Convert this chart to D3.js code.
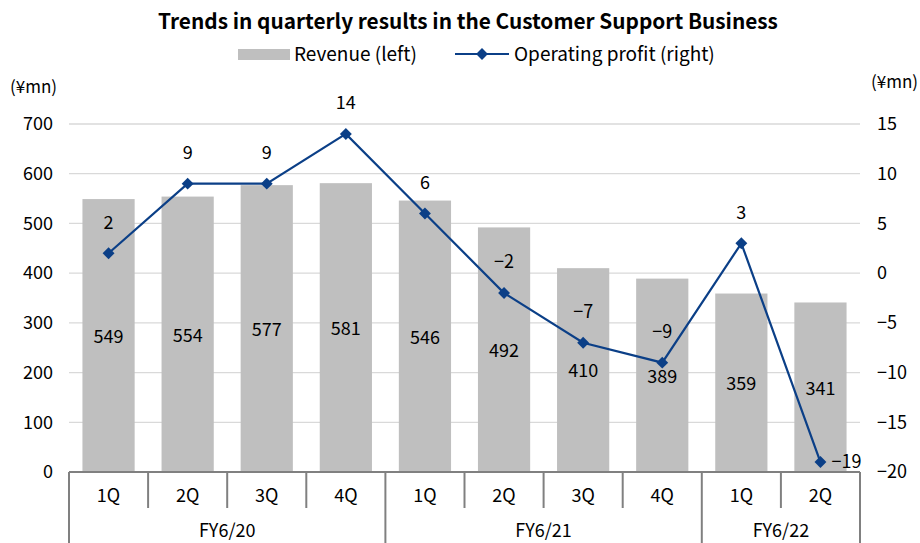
<!DOCTYPE html>
<html><head><meta charset="utf-8">
<script src="https://cdn.jsdelivr.net/npm/d3@7"></script>
<style>body{margin:0;background:#fff}svg{display:block}text{font-family:"Noto Sans CJK JP","Noto Sans",sans-serif;fill:#000}</style>
</head><body>
<script>
const quarters = ["1Q","2Q","3Q","4Q","1Q","2Q","3Q","4Q","1Q","2Q"];
const fiscalYears = ["FY6/20","FY6/20","FY6/20","FY6/20","FY6/21","FY6/21","FY6/21","FY6/21","FY6/22","FY6/22"];
const revenue = [549,554,577,581,546,492,410,389,359,341];
const profit = [2,9,9,14,6,-2,-7,-9,3,-19];
const leftTicks = [0,100,200,300,400,500,600,700];
const rightTicks = [-20,-15,-10,-5,0,5,10,15];

const W=920,H=543;
const m={l:69,r:860,t:124,b:472};
const FS="18px";
const svg=d3.select("body").append("svg").attr("width",W).attr("height",H);
const idx=d3.range(quarters.length);
const x=d3.scaleBand().domain(idx).range([m.l,m.r]).paddingInner(0.34).paddingOuter(0.17);
const xs=d3.scaleBand().domain(idx).range([m.l,m.r]);
const yL=d3.scaleLinear().domain([0,700]).range([m.b,m.t]);
const yR=d3.scaleLinear().domain([-20,15]).range([m.b,m.t]);
const fmt=v=>v<0?"\u2212"+Math.abs(v):String(v);

// grid
svg.append("g").selectAll("line").data(leftTicks.filter(d=>d>0)).join("line")
 .attr("x1",m.l).attr("x2",m.r).attr("y1",d=>yL(d)).attr("y2",d=>yL(d))
 .attr("stroke","#d9d9d9").attr("stroke-width",1.3);

// axes labels
const gl=svg.append("g").attr("transform",`translate(${m.l},0)`)
 .call(d3.axisLeft(yL).tickValues(leftTicks).tickSize(0).tickPadding(16));
gl.select(".domain").remove();
gl.selectAll("text").style("font-size",FS).attr("font-family",null);
const gr=svg.append("g").attr("transform",`translate(${m.r},0)`)
 .call(d3.axisRight(yR).tickValues(rightTicks).tickSize(0).tickPadding(17).tickFormat(fmt));
gr.select(".domain").remove();
gr.selectAll("text").style("font-size",FS).attr("font-family",null);

// bars
svg.append("g").selectAll("rect").data(revenue).join("rect")
 .attr("x",(d,i)=>x(i)).attr("width",x.bandwidth())
 .attr("y",d=>yL(d)).attr("height",d=>yL(0)-yL(d)).attr("fill","#bfbfbf");
svg.append("g").selectAll("text").data(revenue).join("text")
 .attr("x",(d,i)=>x(i)+x.bandwidth()/2).attr("y",d=>(yL(d)+yL(0))/2+1)
 .attr("text-anchor","middle").attr("dy","0.35em").style("font-size",FS).text(d=>d);

// line
const cx=i=>x(i)+x.bandwidth()/2;
svg.append("path").datum(profit).attr("fill","none").attr("stroke","#0b3f87").attr("stroke-width",2.2)
 .attr("d",d3.line().x((d,i)=>cx(i)).y(d=>yR(d)));
svg.append("g").selectAll("path").data(profit).join("path")
 .attr("transform",(d,i)=>`translate(${cx(i)},${yR(d)})`)
 .attr("d",d3.symbol(d3.symbolDiamond2,90)).attr("fill","#0b3f87");
svg.append("g").selectAll("text").data(profit).join("text")
 .attr("x",(d,i)=>i===profit.length-1?cx(i)+11:cx(i))
 .attr("y",(d,i)=>i===profit.length-1?yR(d):yR(d)-31)
 .attr("text-anchor",(d,i)=>i===profit.length-1?"start":"middle")
 .attr("dy","0.35em").style("font-size",FS).text(fmt);

// category axis
const ax=svg.append("g").attr("stroke","#808080").attr("stroke-width",2);
ax.append("line").attr("x1",m.l).attr("x2",m.r).attr("y1",m.b).attr("y2",m.b);
const groups=[];
fiscalYears.forEach((f,i)=>{ if(!groups.length||groups[groups.length-1].name!==f) groups.push({name:f,start:i,end:i}); else groups[groups.length-1].end=i;});
idx.concat([quarters.length]).forEach(i=>{
  const xx=i<quarters.length?xs(i):m.r;
  const isGroup = i===quarters.length || groups.some(g=>g.start===i);
  ax.append("line").attr("x1",xx).attr("x2",xx).attr("y1",m.b).attr("y2",isGroup?H:508);
});
svg.append("g").selectAll("text").data(quarters).join("text")
 .attr("x",(d,i)=>xs(i)+xs.bandwidth()/2).attr("y",496).attr("text-anchor","middle")
 .attr("dy","0.35em").style("font-size",FS).text(d=>d);
svg.append("g").selectAll("text").data(groups).join("text")
 .attr("x",g=>(xs(g.start)+xs(g.end)+xs.bandwidth())/2).attr("y",531).attr("text-anchor","middle")
 .attr("dy","0.35em").style("font-size",FS).text(g=>g.name);

// units
svg.append("text").attr("x",10).attr("y",87).attr("dy","0.35em").style("font-size","17px").text("(¥mn)");
svg.append("text").attr("x",918).attr("y",82).attr("text-anchor","end").attr("dy","0.35em").style("font-size","17px").text("(¥mn)");

// title
svg.append("text").attr("x",468).attr("y",22).attr("text-anchor","middle").attr("dy","0.35em")
 .style("font-size","20.8px").style("font-weight","bold").text("Trends in quarterly results in the Customer Support Business");

// legend
svg.append("rect").attr("x",238).attr("y",49).attr("width",52).attr("height",11).attr("fill","#bfbfbf");
svg.append("text").attr("x",294).attr("y",54).attr("dy","0.35em").style("font-size","19px").text("Revenue (left)");
svg.append("line").attr("x1",455).attr("x2",509).attr("y1",54).attr("y2",54).attr("stroke","#0b3f87").attr("stroke-width",2.2);
svg.append("path").attr("transform","translate(482,54)").attr("d",d3.symbol(d3.symbolDiamond2,90)).attr("fill","#0b3f87");
svg.append("text").attr("x",514).attr("y",54).attr("dy","0.35em").style("font-size","19px").text("Operating profit (right)");
</script>
</body></html>
